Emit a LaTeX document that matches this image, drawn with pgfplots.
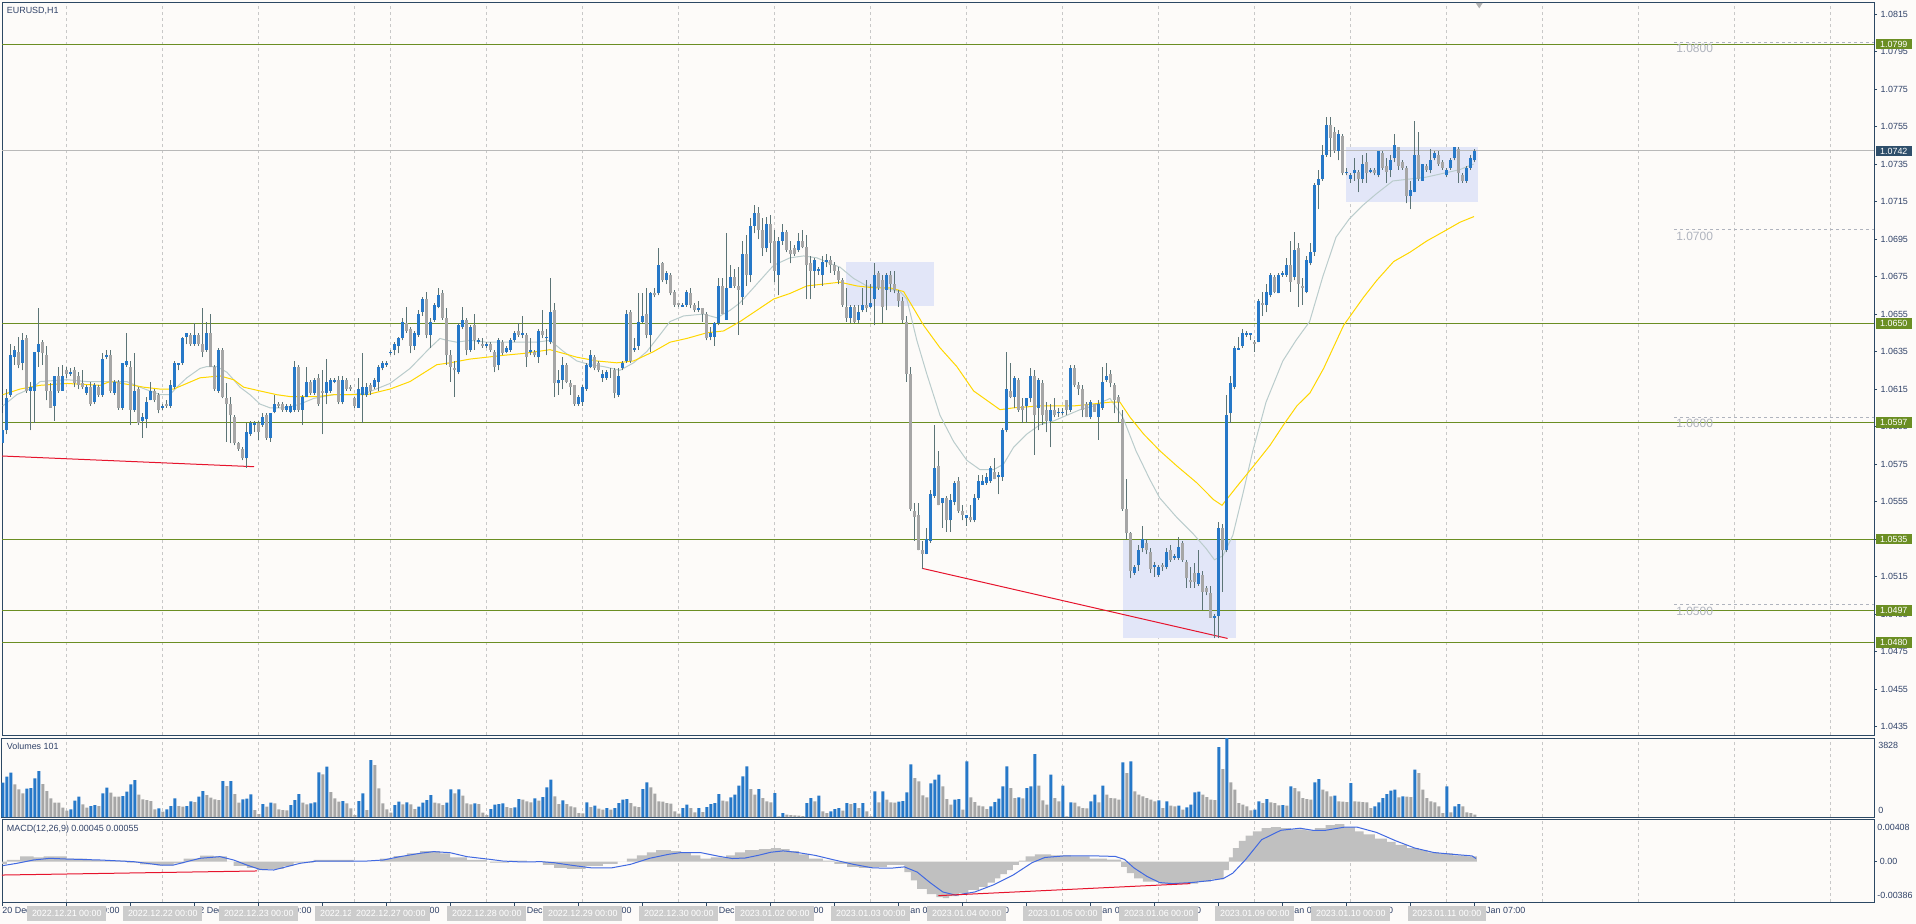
\documentclass[border=0pt]{standalone}
\usepackage{fontspec}
\setmainfont{Liberation Sans}
\usepackage{pgfplots}
\usepackage{pgfplotstable}
\pgfplotsset{compat=1.18}

\definecolor{bg}{RGB}{253,251,249}
\definecolor{frame}{RGB}{44,72,100}
\definecolor{lbl}{RGB}{48,66,104}
\definecolor{upc}{RGB}{38,120,200}
\definecolor{dnc}{RGB}{166,166,166}
\definecolor{wick}{RGB}{92,116,118}
\definecolor{lvl}{RGB}{107,142,35}
\definecolor{bidbox}{RGB}{47,79,107}
\definecolor{gridc}{RGB}{200,200,200}
\definecolor{zone}{RGB}{226,230,248}
\definecolor{trend}{RGB}{230,20,45}
\definecolor{maslow}{RGB}{255,215,0}
\definecolor{mafast}{RGB}{186,204,204}
\definecolor{histc}{RGB}{192,192,192}
\definecolor{sigc}{RGB}{65,105,225}
\definecolor{fibc}{RGB}{176,180,190}
\definecolor{datebox}{RGB}{204,204,204}
\newcommand{\lf}{\fontsize{6.7}{8}\selectfont}
\tikzset{lab/.style={font=\lf, text=lbl, inner sep=0pt},
  dbox/.style={fill=datebox, text=white, font=\lf, anchor=north, inner sep=0pt,
    minimum width=59pt, minimum height=11pt, yshift=-3pt}}

% bar index, open, high, low, close (EURUSD H1, 20 Dec 2022 08:00 onwards)
\pgfplotstableread{
x o h l c
0 1.0586 1.0602 1.0586 1.0593
1 1.0593 1.0615 1.0591 1.0610
2 1.0612 1.0639 1.0611 1.0633
3 1.0632 1.0638 1.0628 1.0636
4 1.0635 1.0643 1.0626 1.0628
5 1.0629 1.0645 1.0625 1.0641
6 1.0642 1.0644 1.0613 1.0614
7 1.0614 1.0619 1.0593 1.0616
8 1.0614 1.0635 1.0597 1.0635
9 1.0635 1.0658 1.0627 1.0639
10 1.0640 1.0641 1.0628 1.0634
11 1.0633 1.0638 1.0609 1.0614
12 1.0614 1.0618 1.0605 1.0605
13 1.0606 1.0622 1.0598 1.0622
14 1.0622 1.0627 1.0613 1.0614
15 1.0614 1.0628 1.0614 1.0622
16 1.0625 1.0627 1.0621 1.0623
17 1.0623 1.0626 1.0622 1.0624
18 1.0625 1.0627 1.0616 1.0618
19 1.0622 1.0624 1.0615 1.0617
20 1.0618 1.0625 1.0615 1.0616
21 1.0613 1.0617 1.0612 1.0616
22 1.0616 1.0619 1.0606 1.0607
23 1.0608 1.0618 1.0607 1.0617
24 1.0616 1.0617 1.0611 1.0612
25 1.0612 1.0634 1.0611 1.0631
26 1.0632 1.0636 1.0631 1.0633
27 1.0633 1.0636 1.0613 1.0614
28 1.0613 1.0620 1.0612 1.0619
29 1.0619 1.0620 1.0604 1.0605
30 1.0605 1.0629 1.0604 1.0629
31 1.0628 1.0645 1.0627 1.0630
32 1.0627 1.0630 1.0596 1.0604
33 1.0604 1.0634 1.0603 1.0614
34 1.0615 1.0616 1.0596 1.0597
35 1.0598 1.0602 1.0589 1.0600
36 1.0599 1.0611 1.0594 1.0608
37 1.0609 1.0619 1.0609 1.0614
38 1.0614 1.0615 1.0608 1.0609
39 1.0612 1.0613 1.0602 1.0604
40 1.0605 1.0607 1.0604 1.0606
41 1.0607 1.0609 1.0605 1.0606
42 1.0606 1.0620 1.0605 1.0617
43 1.0616 1.0630 1.0615 1.0629
44 1.0628 1.0629 1.0625 1.0629
45 1.0629 1.0643 1.0628 1.0642
46 1.0643 1.0645 1.0639 1.0645
47 1.0644 1.0645 1.0638 1.0639
48 1.0639 1.0650 1.0638 1.0644
49 1.0644 1.0645 1.0638 1.0639
50 1.0639 1.0658 1.0632 1.0635
51 1.0636 1.0651 1.0635 1.0645
52 1.0645 1.0655 1.0627 1.0627
53 1.0627 1.0628 1.0614 1.0615
54 1.0614 1.0637 1.0613 1.0636
55 1.0636 1.0637 1.0610 1.0611
56 1.0610 1.0618 1.0587 1.0607
57 1.0607 1.0611 1.0586 1.0601
58 1.0600 1.0601 1.0585 1.0586
59 1.0586 1.0587 1.0582 1.0583
60 1.0583 1.0584 1.0577 1.0578
61 1.0578 1.0597 1.0573 1.0592
62 1.0591 1.0598 1.0590 1.0597
63 1.0596 1.0598 1.0592 1.0597
64 1.0597 1.0598 1.0588 1.0592
65 1.0596 1.0602 1.0595 1.0600
66 1.0601 1.0602 1.0588 1.0589
67 1.0589 1.0602 1.0587 1.0602
68 1.0603 1.0612 1.0602 1.0607
69 1.0607 1.0608 1.0605 1.0606
70 1.0607 1.0608 1.0603 1.0604
71 1.0604 1.0607 1.0603 1.0606
72 1.0603 1.0607 1.0602 1.0606
73 1.0604 1.0630 1.0603 1.0627
74 1.0627 1.0628 1.0603 1.0604
75 1.0604 1.0612 1.0596 1.0611
76 1.0611 1.0627 1.0611 1.0619
77 1.0619 1.0620 1.0612 1.0613
78 1.0613 1.0621 1.0612 1.0620
79 1.0621 1.0623 1.0606 1.0607
80 1.0614 1.0625 1.0591 1.0613
81 1.0613 1.0631 1.0607 1.0619
82 1.0614 1.0621 1.0613 1.0620
83 1.0619 1.0621 1.0618 1.0620
84 1.0620 1.0622 1.0607 1.0608
85 1.0608 1.0622 1.0607 1.0620
86 1.0620 1.0621 1.0614 1.0615
87 1.0616 1.0617 1.0614 1.0615
88 1.0610 1.0611 1.0605 1.0606
89 1.0605 1.0621 1.0605 1.0615
90 1.0612 1.0634 1.0597 1.0616
91 1.0612 1.0618 1.0611 1.0616
92 1.0617 1.0618 1.0612 1.0614
93 1.0616 1.0621 1.0615 1.0620
94 1.0619 1.0628 1.0614 1.0627
95 1.0626 1.0630 1.0625 1.0629
96 1.0628 1.0630 1.0627 1.0629
97 1.0634 1.0636 1.0633 1.0635
98 1.0636 1.0640 1.0633 1.0639
99 1.0638 1.0643 1.0634 1.0642
100 1.0642 1.0653 1.0641 1.0651
101 1.0650 1.0659 1.0645 1.0646
102 1.0647 1.0648 1.0634 1.0638
103 1.0638 1.0646 1.0636 1.0645
104 1.0644 1.0657 1.0643 1.0655
105 1.0656 1.0664 1.0654 1.0663
106 1.0663 1.0667 1.0642 1.0644
107 1.0644 1.0653 1.0637 1.0651
108 1.0652 1.0661 1.0651 1.0660
109 1.0659 1.0669 1.0658 1.0665
110 1.0666 1.0668 1.0652 1.0653
111 1.0653 1.0658 1.0628 1.0633
112 1.0633 1.0636 1.0619 1.0627
113 1.0626 1.0630 1.0611 1.0625
114 1.0624 1.0650 1.0623 1.0649
115 1.0648 1.0659 1.0647 1.0652
116 1.0652 1.0653 1.0633 1.0636
117 1.0636 1.0649 1.0635 1.0648
118 1.0649 1.0655 1.0636 1.0641
119 1.0640 1.0642 1.0639 1.0641
120 1.0639 1.0642 1.0637 1.0638
121 1.0638 1.0640 1.0637 1.0639
122 1.0639 1.0640 1.0635 1.0636
123 1.0635 1.0636 1.0624 1.0627
124 1.0628 1.0642 1.0625 1.0641
125 1.0640 1.0641 1.0633 1.0634
126 1.0635 1.0638 1.0634 1.0637
127 1.0636 1.0642 1.0635 1.0641
128 1.0641 1.0646 1.0640 1.0645
129 1.0646 1.0650 1.0643 1.0644
130 1.0644 1.0654 1.0642 1.0645
131 1.0644 1.0645 1.0627 1.0632
132 1.0635 1.0642 1.0633 1.0636
133 1.0635 1.0636 1.0632 1.0633
134 1.0632 1.0647 1.0629 1.0646
135 1.0646 1.0657 1.0642 1.0644
136 1.0642 1.0647 1.0633 1.0643
137 1.0640 1.0674 1.0639 1.0656
138 1.0657 1.0661 1.0611 1.0618
139 1.0618 1.0625 1.0612 1.0620
140 1.0620 1.0632 1.0615 1.0628
141 1.0628 1.0629 1.0618 1.0619
142 1.0618 1.0620 1.0612 1.0616
143 1.0617 1.0617 1.0606 1.0607
144 1.0607 1.0612 1.0606 1.0611
145 1.0608 1.0617 1.0606 1.0616
146 1.0615 1.0629 1.0614 1.0628
147 1.0627 1.0636 1.0626 1.0633
148 1.0632 1.0633 1.0625 1.0626
149 1.0629 1.0630 1.0624 1.0625
150 1.0621 1.0625 1.0619 1.0623
151 1.0621 1.0625 1.0620 1.0624
152 1.0624 1.0626 1.0621 1.0624
153 1.0625 1.0626 1.0610 1.0613
154 1.0612 1.0626 1.0611 1.0622
155 1.0626 1.0630 1.0625 1.0629
156 1.0630 1.0657 1.0629 1.0655
157 1.0656 1.0657 1.0629 1.0630
158 1.0636 1.0642 1.0635 1.0637
159 1.0638 1.0666 1.0636 1.0651
160 1.0651 1.0666 1.0650 1.0654
161 1.0655 1.0669 1.0642 1.0644
162 1.0644 1.0667 1.0635 1.0666
163 1.0666 1.0669 1.0664 1.0665
164 1.0666 1.0690 1.0665 1.0681
165 1.0682 1.0683 1.0672 1.0673
166 1.0673 1.0678 1.0671 1.0677
167 1.0676 1.0677 1.0665 1.0666
168 1.0667 1.0668 1.0659 1.0660
169 1.0661 1.0661 1.0659 1.0660
170 1.0659 1.0661 1.0659 1.0660
171 1.0660 1.0668 1.0659 1.0667
172 1.0666 1.0669 1.0658 1.0660
173 1.0660 1.0661 1.0656 1.0657
174 1.0657 1.0662 1.0656 1.0658
175 1.0658 1.0658 1.0651 1.0655
176 1.0655 1.0656 1.0641 1.0642
177 1.0643 1.0648 1.0641 1.0645
178 1.0643 1.0651 1.0638 1.0650
179 1.0650 1.0674 1.0649 1.0670
180 1.0670 1.0674 1.0655 1.0655
181 1.0652 1.0698 1.0652 1.0669
182 1.0669 1.0681 1.0669 1.0675
183 1.0675 1.0679 1.0669 1.0670
184 1.0670 1.0680 1.0644 1.0668
185 1.0664 1.0694 1.0660 1.0687
186 1.0687 1.0697 1.0670 1.0676
187 1.0676 1.0706 1.0672 1.0702
188 1.0702 1.0713 1.0698 1.0709
189 1.0709 1.0712 1.0695 1.0700
190 1.0700 1.0706 1.0686 1.0690
191 1.0690 1.0707 1.0688 1.0703
192 1.0703 1.0708 1.0682 1.0693
193 1.0694 1.0700 1.0672 1.0678
194 1.0676 1.0696 1.0665 1.0694
195 1.0694 1.0703 1.0692 1.0699
196 1.0699 1.0700 1.0688 1.0689
197 1.0689 1.0694 1.0682 1.0687
198 1.0690 1.0692 1.0686 1.0687
199 1.0689 1.0698 1.0688 1.0694
200 1.0694 1.0700 1.0690 1.0691
201 1.0691 1.0697 1.0663 1.0681
202 1.0682 1.0686 1.0663 1.0678
203 1.0678 1.0685 1.0669 1.0684
204 1.0678 1.0680 1.0676 1.0679
205 1.0676 1.0686 1.0670 1.0683
206 1.0683 1.0687 1.0680 1.0684
207 1.0684 1.0686 1.0677 1.0681
208 1.0681 1.0683 1.0676 1.0678
209 1.0678 1.0680 1.0671 1.0673
210 1.0673 1.0674 1.0659 1.0660
211 1.0659 1.0669 1.0651 1.0653
212 1.0653 1.0660 1.0650 1.0659
213 1.0659 1.0660 1.0650 1.0651
214 1.0652 1.0660 1.0650 1.0656
215 1.0657 1.0669 1.0656 1.0660
216 1.0660 1.0673 1.0656 1.0658
217 1.0659 1.0671 1.0658 1.0661
218 1.0663 1.0682 1.0649 1.0676
219 1.0677 1.0678 1.0668 1.0669
220 1.0673 1.0676 1.0650 1.0659
221 1.0668 1.0677 1.0657 1.0676
222 1.0676 1.0678 1.0667 1.0671
223 1.0671 1.0678 1.0666 1.0668
224 1.0666 1.0668 1.0659 1.0662
225 1.0662 1.0664 1.0650 1.0652
226 1.0651 1.0654 1.0619 1.0623
227 1.0623 1.0627 1.0550 1.0551
228 1.0550 1.0554 1.0534 1.0547
229 1.0548 1.0554 1.0529 1.0529
230 1.0529 1.0534 1.0519 1.0527
231 1.0527 1.0541 1.0527 1.0535
232 1.0534 1.0561 1.0533 1.0559
233 1.0558 1.0596 1.0557 1.0573
234 1.0574 1.0582 1.0553 1.0553
235 1.0554 1.0557 1.0541 1.0557
236 1.0557 1.0558 1.0539 1.0545
237 1.0545 1.0559 1.0539 1.0556
238 1.0555 1.0566 1.0553 1.0565
239 1.0566 1.0568 1.0549 1.0550
240 1.0550 1.0553 1.0545 1.0548
241 1.0546 1.0548 1.0542 1.0548
242 1.0547 1.0553 1.0544 1.0545
243 1.0545 1.0559 1.0544 1.0557
244 1.0557 1.0569 1.0556 1.0566
245 1.0564 1.0569 1.0564 1.0566
246 1.0565 1.0570 1.0564 1.0568
247 1.0566 1.0574 1.0565 1.0573
248 1.0571 1.0578 1.0567 1.0567
249 1.0568 1.0571 1.0559 1.0569
250 1.0568 1.0594 1.0566 1.0593
251 1.0593 1.0635 1.0592 1.0615
252 1.0614 1.0629 1.0610 1.0611
253 1.0611 1.0622 1.0605 1.0621
254 1.0620 1.0621 1.0603 1.0604
255 1.0606 1.0610 1.0597 1.0604
256 1.0606 1.0610 1.0597 1.0610
257 1.0610 1.0626 1.0608 1.0622
258 1.0622 1.0625 1.0580 1.0601
259 1.0605 1.0621 1.0593 1.0620
260 1.0618 1.0620 1.0596 1.0601
261 1.0604 1.0608 1.0592 1.0598
262 1.0598 1.0607 1.0584 1.0604
263 1.0604 1.0610 1.0600 1.0601
264 1.0602 1.0605 1.0600 1.0603
265 1.0602 1.0605 1.0601 1.0603
266 1.0609 1.0609 1.0601 1.0604
267 1.0604 1.0628 1.0603 1.0626
268 1.0626 1.0628 1.0616 1.0617
269 1.0617 1.0619 1.0612 1.0615
270 1.0615 1.0617 1.0600 1.0604
271 1.0607 1.0608 1.0600 1.0600
272 1.0600 1.0609 1.0599 1.0608
273 1.0607 1.0607 1.0603 1.0603
274 1.0600 1.0609 1.0588 1.0607
275 1.0605 1.0627 1.0604 1.0619
276 1.0620 1.0629 1.0619 1.0622
277 1.0623 1.0625 1.0616 1.0618
278 1.0617 1.0618 1.0602 1.0609
279 1.0611 1.0612 1.0597 1.0608
280 1.0599 1.0604 1.0550 1.0551
281 1.0551 1.0567 1.0535 1.0538
282 1.0538 1.0539 1.0514 1.0518
283 1.0517 1.0521 1.0516 1.0520
284 1.0521 1.0532 1.0518 1.0529
285 1.0530 1.0542 1.0528 1.0535
286 1.0533 1.0535 1.0527 1.0529
287 1.0528 1.0530 1.0517 1.0519
288 1.0520 1.0523 1.0515 1.0521
289 1.0516 1.0521 1.0515 1.0520
290 1.0521 1.0522 1.0518 1.0520
291 1.0520 1.0530 1.0519 1.0528
292 1.0529 1.0532 1.0523 1.0524
293 1.0525 1.0527 1.0524 1.0526
294 1.0525 1.0536 1.0524 1.0531
295 1.0533 1.0534 1.0523 1.0524
296 1.0523 1.0524 1.0509 1.0514
297 1.0513 1.0520 1.0509 1.0512
298 1.0517 1.0522 1.0509 1.0512
299 1.0511 1.0529 1.0510 1.0517
300 1.0516 1.0518 1.0497 1.0507
301 1.0509 1.0510 1.0505 1.0507
302 1.0506 1.0510 1.0493 1.0493
303 1.0493 1.0495 1.0482 1.0494
304 1.0494 1.0544 1.0482 1.0541
305 1.0541 1.0543 1.0507 1.0529
306 1.0529 1.0612 1.0528 1.0601
307 1.0602 1.0622 1.0597 1.0618
308 1.0616 1.0638 1.0615 1.0637
309 1.0636 1.0643 1.0636 1.0637
310 1.0638 1.0647 1.0637 1.0645
311 1.0644 1.0646 1.0643 1.0645
312 1.0644 1.0645 1.0641 1.0645
313 1.0640 1.0641 1.0635 1.0639
314 1.0640 1.0663 1.0640 1.0662
315 1.0661 1.0667 1.0654 1.0660
316 1.0660 1.0671 1.0656 1.0667
317 1.0665 1.0677 1.0664 1.0676
318 1.0675 1.0676 1.0666 1.0667
319 1.0666 1.0677 1.0666 1.0676
320 1.0676 1.0678 1.0675 1.0677
321 1.0676 1.0685 1.0675 1.0681
322 1.0681 1.0694 1.0667 1.0672
323 1.0675 1.0699 1.0673 1.0689
324 1.0690 1.0693 1.0659 1.0671
325 1.0670 1.0674 1.0660 1.0669
326 1.0667 1.0686 1.0666 1.0684
327 1.0682 1.0693 1.0681 1.0688
328 1.0688 1.0725 1.0686 1.0724
329 1.0724 1.0732 1.0711 1.0727
330 1.0727 1.0745 1.0726 1.0740
331 1.0740 1.0760 1.0739 1.0756
332 1.0756 1.0760 1.0739 1.0749
333 1.0752 1.0755 1.0741 1.0742
334 1.0742 1.0753 1.0737 1.0751
335 1.0750 1.0751 1.0729 1.0730
336 1.0730 1.0733 1.0729 1.0731
337 1.0727 1.0730 1.0725 1.0729
338 1.0730 1.0738 1.0726 1.0732
339 1.0731 1.0732 1.0720 1.0727
340 1.0727 1.0740 1.0725 1.0735
341 1.0736 1.0741 1.0725 1.0730
342 1.0731 1.0733 1.0730 1.0732
343 1.0732 1.0733 1.0729 1.0730
344 1.0729 1.0742 1.0728 1.0742
345 1.0741 1.0742 1.0732 1.0733
346 1.0734 1.0738 1.0725 1.0731
347 1.0732 1.0740 1.0728 1.0737
348 1.0738 1.0751 1.0736 1.0745
349 1.0744 1.0744 1.0732 1.0734
350 1.0736 1.0737 1.0732 1.0733
351 1.0733 1.0734 1.0714 1.0718
352 1.0718 1.0726 1.0711 1.0721
353 1.0720 1.0758 1.0720 1.0740
354 1.0740 1.0752 1.0726 1.0727
355 1.0726 1.0735 1.0726 1.0735
356 1.0734 1.0735 1.0731 1.0732
357 1.0732 1.0743 1.0730 1.0737
358 1.0738 1.0742 1.0737 1.0741
359 1.0740 1.0742 1.0734 1.0735
360 1.0736 1.0737 1.0732 1.0733
361 1.0729 1.0733 1.0728 1.0732
362 1.0733 1.0738 1.0732 1.0737
363 1.0738 1.0744 1.0737 1.0744
364 1.0743 1.0744 1.0725 1.0730
365 1.0729 1.0730 1.0725 1.0726
366 1.0726 1.0734 1.0725 1.0733
367 1.0733 1.0740 1.0732 1.0738
368 1.0737 1.0743 1.0736 1.0742
}\candles

% bar index, tick volume, 1 = higher than previous bar
\pgfplotstableread{
x v u
0 1663 1
1 1954 1
2 2148 1
3 1583 0
4 1340 0
5 1147 0
6 1373 1
7 1405 1
8 1873 1
9 2229 1
10 1599 0
11 1260 0
12 904 0
13 694 0
14 694 0
15 452 0
16 307 0
17 371 1
18 791 1
19 985 1
20 614 0
21 452 0
22 533 1
23 581 1
24 533 0
25 1147 1
26 1421 1
27 1179 0
28 985 0
29 985 0
30 1017 1
31 1227 1
32 1583 1
33 1793 1
34 1082 0
35 856 0
36 824 0
37 775 0
38 371 0
39 420 1
40 258 0
41 371 1
42 533 1
43 904 1
44 533 0
45 501 0
46 533 1
47 759 1
48 727 0
49 985 1
50 1260 1
51 1066 0
52 937 0
53 856 0
54 824 0
55 1744 1
56 1502 0
57 1744 1
58 1114 0
59 694 0
60 856 1
61 888 1
62 1098 1
63 339 0
64 145 0
65 630 1
66 501 0
67 694 1
68 662 0
69 371 0
70 339 0
71 323 0
72 581 1
73 824 1
74 1114 1
75 694 0
76 614 0
77 662 1
78 711 1
79 2164 1
80 2067 0
81 2439 1
82 1211 0
83 904 0
84 743 0
85 775 1
86 662 0
87 420 0
88 97 0
89 775 1
90 1147 1
91 339 0
92 2762 1
93 2519 0
94 1389 0
95 662 0
96 371 0
97 210 0
98 581 1
99 743 1
100 614 0
101 711 1
102 614 0
103 388 0
104 501 1
105 694 1
106 824 1
107 1066 1
108 694 0
109 662 0
110 581 0
111 694 1
112 1340 1
113 1147 0
114 1340 1
115 1034 0
116 662 0
117 614 0
118 662 1
119 630 0
120 210 0
121 97 0
122 388 1
123 598 1
124 630 1
125 662 1
126 485 0
127 436 0
128 468 1
129 872 1
130 840 0
131 759 0
132 711 0
133 904 1
134 791 0
135 969 1
136 1437 1
137 1809 1
138 1001 0
139 630 0
140 808 1
141 630 0
142 517 0
143 468 0
144 194 0
145 178 0
146 711 1
147 485 0
148 549 1
149 404 0
150 355 0
151 436 1
152 355 0
153 436 1
154 678 1
155 840 1
156 872 1
157 678 0
158 517 0
159 485 0
160 1357 1
161 1680 1
162 1437 0
163 1131 0
164 759 0
165 743 0
166 678 0
167 646 0
168 275 0
169 162 0
170 436 1
171 598 1
172 436 0
173 226 0
174 436 1
175 242 0
176 485 1
177 630 1
178 678 1
179 1114 1
180 791 0
181 759 0
182 953 1
183 1082 1
184 1518 1
185 1970 1
186 2455 1
187 1357 0
188 1082 0
189 1357 1
190 921 0
191 759 0
192 711 0
193 1163 1
194 32 0
195 194 1
196 113 0
197 97 0
198 81 0
199 65 0
200 48 0
201 678 1
202 921 1
203 759 0
204 1034 1
205 275 0
206 194 0
207 275 1
208 388 1
209 436 1
210 307 0
211 678 1
212 630 0
213 678 1
214 436 0
215 678 1
216 275 0
217 32 0
218 1244 1
219 711 0
220 1244 1
221 840 0
222 711 0
223 694 0
224 743 1
225 775 1
226 1195 1
227 2552 1
228 1890 0
229 1728 0
230 1050 0
231 953 0
232 1631 1
233 1809 1
234 2051 1
235 1486 0
236 872 0
237 598 0
238 840 1
239 872 1
240 355 0
241 2697 1
242 953 0
243 727 0
244 549 0
245 517 0
246 388 0
247 517 1
248 727 1
249 888 1
250 1486 1
251 2455 1
252 1405 0
253 921 0
254 953 1
255 904 0
256 1405 1
257 1486 1
258 3052 1
259 1518 0
260 808 0
261 598 0
262 2051 1
263 921 0
264 759 0
265 1518 1
266 32 0
267 711 1
268 694 0
269 517 0
270 436 0
271 420 0
272 759 1
273 1082 1
274 711 0
275 1518 1
276 1082 0
277 921 0
278 904 0
279 840 0
280 2649 1
281 2132 0
282 2697 1
283 1244 0
284 1082 0
285 1001 0
286 921 0
287 840 0
288 759 0
289 808 1
290 436 0
291 759 1
292 549 0
293 517 0
294 549 1
295 355 0
296 468 1
297 598 1
298 1195 1
299 1227 1
300 1082 0
301 969 0
302 840 0
303 824 0
304 3392 1
305 2326 0
306 3828 1
307 1680 0
308 1324 0
309 678 0
310 598 0
311 517 0
312 323 0
313 355 1
314 759 1
315 678 0
316 872 1
317 711 0
318 678 0
319 565 0
320 581 1
321 549 0
322 1486 1
323 1405 0
324 1244 0
325 921 0
326 872 0
327 840 0
328 1680 1
329 1841 1
330 1324 0
331 1244 0
332 1001 0
333 1034 1
334 759 0
335 743 0
336 727 0
337 1647 1
338 759 0
339 743 0
340 727 0
341 711 0
342 436 0
343 517 1
344 711 1
345 921 1
346 1114 1
347 1276 1
348 1324 1
349 953 0
350 1001 1
351 985 0
352 969 0
353 2293 1
354 2132 0
355 1324 0
356 921 0
357 759 0
358 711 0
359 517 0
360 194 0
361 1486 1
362 226 0
363 517 1
364 630 1
365 517 0
366 226 0
367 194 0
368 113 0
}\vols

\pgfplotsset{
  pane/.style={
    scale only axis, width=1404pt, xmin=-0.2, xmax=467.8,
    axis line style={frame, line width=0.75pt},
    xtick={16,40,64,88,97,121,145,169,193,217,241,265,289,313,337,361,385,409,433,457},
    xticklabels={}, xmajorgrids,
    major x grid style={gridc, line width=0.75pt, dash pattern=on 2.25pt off 2.25pt},
    xtick style={draw=none}, ytick=\empty, scaled y ticks=false,
    tick align=outside, major tick length=2.25pt,
  },
  nomark/.style={only marks, mark=*, mark size=0pt, mark options={draw=none, fill=none}},
}

\begin{document}
\begin{tikzpicture}
\fill[bg] (0,0) rectangle (1437pt,-693pt);

% ---------------- price pane ----------------
\begin{axis}[pane, at={(1.5pt,-2.25pt)}, anchor=north west, height=549pt,
  ymin=1.04305, ymax=1.08209,
  ytick={1.0435,1.0455,1.0475,1.0495,1.0515,1.0535,1.0555,1.0575,1.0595,1.0615,1.0635,1.0655,1.0675,1.0695,1.0715,1.0735,1.0755,1.0775,1.0795,1.0815},
  ytick pos=right, yticklabel pos=right,
  ytick style={draw=frame, line width=0.75pt},
  yticklabel style={font=\lf, text=lbl, anchor=west, inner sep=0pt, xshift=2.5pt,
    /pgf/number format/fixed, /pgf/number format/fixed zerofill,
    /pgf/number format/precision=4, /pgf/number format/assume math mode=true},
]
% zones
\fill[zone] (axis cs:210.8,1.06594) rectangle (axis cs:232.8,1.06827);
\fill[zone] (axis cs:280.0,1.04824) rectangle (axis cs:308.3,1.05353);
\fill[zone] (axis cs:335.8,1.07149) rectangle (axis cs:368.7,1.07439);
% levels
\addplot[lvl, line width=0.75pt] coordinates {(-0.2,1.0799) (467.8,1.0799)};
\addplot[lvl, line width=0.75pt] coordinates {(-0.2,1.0650) (467.8,1.0650)};
\addplot[lvl, line width=0.75pt] coordinates {(-0.2,1.0597) (467.8,1.0597)};
\addplot[lvl, line width=0.75pt] coordinates {(-0.2,1.0535) (467.8,1.0535)};
\addplot[lvl, line width=0.75pt] coordinates {(-0.2,1.0497) (467.8,1.0497)};
\addplot[lvl, line width=0.75pt] coordinates {(-0.2,1.0480) (467.8,1.0480)};
\addplot[gray!55, line width=0.75pt] coordinates {(-0.2,1.0742) (467.8,1.0742)};
% round-number markers
\addplot[fibc, line width=0.75pt, dash pattern=on 2.25pt off 2.25pt] coordinates {(417.8,1.0800) (467.8,1.0800)};
\addplot[fibc, line width=0.75pt, dash pattern=on 2.25pt off 2.25pt] coordinates {(417.8,1.0700) (467.8,1.0700)};
\addplot[fibc, line width=0.75pt, dash pattern=on 2.25pt off 2.25pt] coordinates {(417.8,1.0600) (467.8,1.0600)};
\addplot[fibc, line width=0.75pt, dash pattern=on 2.25pt off 2.25pt] coordinates {(417.8,1.0500) (467.8,1.0500)};
\node[anchor=north west, font=\fontsize{9}{10}\selectfont, text=fibc, inner sep=0pt] at (axis cs:418.3,1.0799) {1.0800};
\node[anchor=north west, font=\fontsize{9}{10}\selectfont, text=fibc, inner sep=0pt] at (axis cs:418.3,1.0699) {1.0700};
\node[anchor=north west, font=\fontsize{9}{10}\selectfont, text=fibc, inner sep=0pt] at (axis cs:418.3,1.0599) {1.0600};
\node[anchor=north west, font=\fontsize{9}{10}\selectfont, text=fibc, inner sep=0pt] at (axis cs:418.3,1.0499) {1.0500};
% trend lines
\addplot[trend, line width=0.75pt] coordinates {(-0.25,1.05793) (62.8,1.05736)};
\addplot[trend, line width=0.75pt] coordinates {(229.8,1.05194) (306.2,1.04820)};
% moving averages
\addplot[mafast, line width=0.75pt] coordinates {(0,1.0606) (3.5,1.0612) (7.7,1.0616) (9.3,1.0619) (16,1.0620) (21,1.0619) (26,1.0619) (31,1.0619) (34.3,1.0616) (36.8,1.0614) (39.3,1.0612) (41.8,1.0612) (43.5,1.0616) (46,1.0621) (49.3,1.0626) (51,1.0627) (53.5,1.0627) (56,1.0624) (57.7,1.0620) (59.3,1.0616) (61.8,1.0612) (64.3,1.0607) (66.8,1.0605) (70.2,1.0605) (72.7,1.0606) (74.3,1.0607) (77.7,1.0610) (82.7,1.0612) (86.8,1.0612) (91,1.0613) (96.8,1.0618) (101.8,1.0626) (106.8,1.0637) (109.3,1.0642) (111,1.0641) (113.5,1.0640) (116.8,1.0641) (121,1.0640) (125,1.0640) (129.3,1.0640) (133.5,1.0640) (136.8,1.0641) (140.2,1.0635) (143.5,1.0630) (146.8,1.0628) (150.2,1.0627) (154.3,1.0625) (157.7,1.0629) (161,1.0635) (164.3,1.0644) (166.8,1.0651) (170.2,1.0654) (175.2,1.0655) (178.5,1.0653) (181.8,1.0657) (184.3,1.0661) (188.5,1.0671) (192.7,1.0681) (196.8,1.0685) (200.2,1.0686) (203.5,1.0685) (206.8,1.0682) (209.3,1.0680) (212.7,1.0674) (216,1.0670) (220.2,1.0669) (224.3,1.0667) (226,1.0663) (228.5,1.0641) (231,1.0623) (234.3,1.0601) (237.7,1.0587) (241,1.0577) (244.3,1.0572) (247.7,1.0572) (250.2,1.0575) (252.7,1.0584) (256,1.0591) (259.3,1.0596) (262.7,1.0598) (266,1.0601) (269.3,1.0604) (272.7,1.0606) (276.8,1.0610) (280,1.0600) (283.3,1.0582) (286.7,1.0567) (289.2,1.0557) (293.3,1.0547) (297.5,1.0538) (300.8,1.0530) (302.9,1.0524) (305,1.0526) (307.5,1.0537) (310,1.0559) (312.5,1.0582) (315.8,1.0608) (320,1.0630) (323.3,1.0641) (326.7,1.0651) (330,1.0675) (333.3,1.0696) (336.7,1.0706) (340,1.0713) (343.3,1.0719) (347.5,1.0726) (351.7,1.0727) (355.8,1.0728) (360,1.0730) (364.2,1.0732) (367.7,1.0735)};
\addplot[maslow, line width=0.75pt] coordinates {(0,1.0612) (4.3,1.0615) (9.3,1.0617) (16,1.0618) (24.3,1.0617) (26.8,1.0619) (32.7,1.0617) (35.2,1.0616) (39.3,1.0615) (42.7,1.0615) (46,1.0618) (49.3,1.0621) (54.3,1.0622) (57.7,1.0620) (60.2,1.0616) (64.3,1.0614) (68.5,1.0612) (71.8,1.0611) (78.5,1.0611) (82.7,1.0612) (91,1.0612) (96.8,1.0615) (101.8,1.0619) (108.5,1.0628) (111.8,1.0629) (116.8,1.0631) (125.2,1.0633) (130.2,1.0634) (136.8,1.0636) (140.2,1.0634) (143.5,1.0632) (148.5,1.0630) (153.5,1.0629) (157.7,1.0630) (162.7,1.0635) (166.8,1.0640) (171,1.0642) (176,1.0645) (180.2,1.0646) (184.3,1.0651) (188.5,1.0657) (192.7,1.0663) (196.8,1.0666) (201,1.0670) (205.2,1.0671) (209.3,1.0672) (213.5,1.0670) (217.7,1.0669) (221.8,1.0669) (225.2,1.0667) (227.7,1.0658) (230.2,1.0649) (234.3,1.0637) (238.5,1.0627) (242.7,1.0614) (246,1.0609) (249.3,1.0604) (252.7,1.0605) (259.3,1.0606) (267.7,1.0606) (276.8,1.0608) (279.3,1.0608) (281.8,1.0600) (285.2,1.0591) (289.3,1.0582) (293.5,1.0574) (298.5,1.0565) (302.7,1.0556) (304.8,1.0553) (308.5,1.0563) (312.7,1.0574) (316.8,1.0585) (320.2,1.0596) (323.5,1.0606) (326.8,1.0613) (330.2,1.0626) (335.2,1.0649) (340.2,1.0664) (343.5,1.0673) (347.7,1.0683) (351.8,1.0688) (356,1.0694) (360.2,1.0699) (364.3,1.0704) (367.8,1.0707)};
% candles: wicks, then bodies
\addplot[nomark, error bars/.cd, y dir=plus, y explicit, error mark=none,
  error bar style={line width=0.75pt, wick}]
  table[x=x, y=l, y error expr=\thisrow{h}-\thisrow{l}] \candles;
\addplot[nomark, restrict expr to domain={\thisrow{c}-\thisrow{o}}{0:1},
  error bars/.cd, y dir=plus, y explicit, error mark=none,
  error bar style={line width=2.25pt, upc}]
  table[x=x, y=o, y error expr=\thisrow{c}-\thisrow{o}] \candles;
\addplot[nomark, restrict expr to domain={\thisrow{c}-\thisrow{o}}{-1:0},
  error bars/.cd, y dir=plus, y explicit, error mark=none,
  error bar style={line width=2.25pt, dnc}]
  table[x=x, y=c, y error expr=\thisrow{o}-\thisrow{c}] \candles;
\node[lab, anchor=west] at ([xshift=3.5pt, yshift=-6pt]rel axis cs:0,1) {EURUSD,H1};
\coordinate (lv1) at (axis cs:467.8,1.0799);
\coordinate (lv2) at (axis cs:467.8,1.0650);
\coordinate (lv3) at (axis cs:467.8,1.0597);
\coordinate (lv4) at (axis cs:467.8,1.0535);
\coordinate (lv5) at (axis cs:467.8,1.0497);
\coordinate (lv6) at (axis cs:467.8,1.0480);
\coordinate (bid) at (axis cs:467.8,1.0742);
\coordinate (tri) at (axis cs:369.1,1.08209);
\end{axis}
\foreach \c/\t in {lv1/1.0799, lv2/1.0650, lv3/1.0597, lv4/1.0535, lv5/1.0497, lv6/1.0480}
  \node[fill=lvl, text=white, font=\lf, anchor=west, inner sep=0pt, minimum width=27pt, minimum height=8pt] at ([xshift=1.1pt]\c) {\t};
\node[fill=bidbox, text=white, font=\lf, anchor=west, inner sep=0pt, minimum width=27pt, minimum height=8pt] at ([xshift=1.1pt]bid) {1.0742};
\fill[gray!60] ([xshift=-2.6pt]tri) -- ([xshift=2.6pt]tri) -- ([yshift=-4pt]tri) -- cycle;

% ---------------- volume pane ----------------
\begin{axis}[pane, at={(1.5pt,-553.5pt)}, anchor=north west, height=59.25pt,
  ymin=0, ymax=3828, clip=false]
\addplot[ybar, bar width=2.25pt, bar shift=0pt, fill=upc, draw=none,
  restrict expr to domain={\thisrow{u}}{0.5:1.5}] table[x=x, y=v] \vols;
\addplot[ybar, bar width=2.25pt, bar shift=0pt, fill=dnc, draw=none,
  restrict expr to domain={\thisrow{u}}{-0.5:0.5}] table[x=x, y=v] \vols;
\node[lab, anchor=west] at ([xshift=3.5pt, yshift=-6pt]rel axis cs:0,1) {Volumes 101};
\node[lab, anchor=west] at ([xshift=3pt, yshift=-5.25pt]rel axis cs:1,1) {3828};
\node[lab, anchor=west] at ([xshift=3pt, yshift=5.25pt]rel axis cs:1,0) {0};
\end{axis}

% ---------------- MACD pane ----------------
\begin{axis}[pane, at={(1.5pt,-614.25pt)}, anchor=north west, height=62.25pt,
  ymin=-0.00386, ymax=0.00408, clip=false,
  ytick={0}, yticklabels={0.00}, ytick pos=right, yticklabel pos=right,
  ytick style={draw=frame, line width=0.75pt},
  yticklabel style={font=\lf, text=lbl, anchor=west, inner sep=0pt, xshift=2pt},
  xtick pos=bottom,
  extra x ticks={0,16,32,48,64,80,96,112,128,144,160,176,192,208,224,240,256,272,288,304,320,336,352,368},
  extra x tick labels={20 Dec 2022,21 Dec 00:00,21 Dec 16:00,22 Dec 08:00,23 Dec 00:00,23 Dec 16:00,26 Dec 23:00,27 Dec 15:00,28 Dec 07:00,28 Dec 23:00,29 Dec 15:00,30 Dec 07:00,30 Dec 23:00,2 Jan 15:00,3 Jan 07:00,3 Jan 23:00,4 Jan 15:00,5 Jan 07:00,5 Jan 23:00,6 Jan 15:00,9 Jan 07:00,9 Jan 23:00,10 Jan 15:00,11 Jan 07:00},
  extra x tick style={grid=none, xtick style={draw=frame, line width=0.75pt}, major tick length=3pt,
    xticklabel style={font=\lf, text=lbl, anchor=north west, inner sep=0pt, xshift=-0.5pt, yshift=-1pt}},
]
\addplot[ybar interval, fill=histc, draw=none] coordinates {(-0.2,-0.0002) (1,0.00016) (4.3,0.0005) (7.7,0.0004) (10.2,0.0005) (16,0.0003) (21,0.00016) (24.3,0.0001) (31,-0.0001) (34.3,-0.00026) (38.5,-0.00035) (42.7,-0.00016) (45.2,0.0003) (49.3,0.00057) (52.7,0.0005) (56,0.0) (57.7,-0.0004) (61,-0.0006) (63.5,-0.0008) (66,-0.0007) (70.2,-0.0004) (72.7,-0.0001) (77.7,0.00016) (87.7,0.0) (94.3,0.0003) (97.7,0.00054) (101,0.0008) (104.3,0.001) (109.3,0.0008) (111.8,0.0004) (116,0.00016) (121,0.0) (121.8,-0.0001) (126.6,0.0001) (131,0.0000) (135,-0.0003) (137.8,-0.0006) (141,-0.0007) (145.7,-0.0004) (150,-0.0002) (153.7,0.0000) (156,0.0003) (158.5,0.0006) (161,0.0009) (163.3,0.0011) (167,0.0010) (169.6,0.0009) (172,0.0006) (174.4,0.0003) (177,0.0004) (180.8,0.0006) (183,0.0009) (185.6,0.0011) (189,0.0012) (192,0.0013) (194.5,0.0012) (196.7,0.0010) (199,0.0007) (201.5,0.0003) (205,0.0001) (207.9,-0.0002) (211.1,-0.0005) (214,-0.0006) (217.5,-0.0005) (221,-0.0003) (225.4,-0.0010) (227,-0.0018) (228.6,-0.0026) (231,-0.0031) (233.4,-0.0034) (235,-0.0035) (236.6,-0.0033) (239,-0.0030) (241.4,-0.0027) (244,-0.0024) (246.2,-0.0020) (248,-0.0016) (249.4,-0.0012) (251,-0.0008) (252.5,-0.0003) (254,0.0001) (255.7,0.0005) (258,0.0007) (262.1,0.0006) (267,0.0005) (271.7,0.0003) (276,0.0002) (279.6,-0.0005) (281,-0.0011) (282.8,-0.0016) (285,-0.0019) (289.2,-0.0021) (294,-0.0021) (298.8,-0.0019) (302,-0.0017) (305.2,-0.0008) (306.5,0.0004) (307.5,0.0013) (309,0.0020) (310.7,0.0025) (312.5,0.0029) (314.7,0.0032) (317,0.0033) (319.5,0.0032) (322,0.0031) (325.9,0.0030) (328,0.0032) (330.7,0.0035) (333,0.0036) (335.4,0.0033) (338,0.0029) (340.2,0.0026) (343,0.0022) (346,0.0019) (348.2,0.0016) (351,0.0013) (354,0.0011) (356.2,0.0009) (359,0.0008) (362.6,0.0006) (366,0.0005) (368.5,0.0005)};
\addplot[sigc, line width=0.75pt] coordinates {(0,-0.00038) (3.5,-0.00016) (7.7,0.00016) (11.8,0.00032) (16,0.00025) (24.3,0.00016) (32.7,0.0) (39.3,-0.00032) (42.7,-0.00032) (46,0.0) (49.3,0.00032) (54.3,0.00048) (57.7,0.00016) (61,-0.00032) (64.3,-0.00074) (67.7,-0.0008) (71,-0.00048) (74.3,-0.00016) (78.5,0.00006) (91,0.00006) (95.2,0.00016) (99.3,0.00048) (104.3,0.0008) (107.7,0.00096) (111.8,0.00086) (116,0.00048) (121.8,0.00022) (125,0.00006) (129.8,-0.00003) (134.6,0.0) (137.8,-0.0001) (142.5,-0.00036) (147.3,-0.0006) (152.1,-0.0006) (156.9,-0.00026) (161.7,0.00032) (166.4,0.0007) (169.6,0.00087) (174.4,0.00087) (179.2,0.0005) (182.4,0.0003) (185.6,0.00035) (188.8,0.0006) (192,0.0009) (195.1,0.00103) (198.3,0.0009) (203.1,0.0006) (207.9,0.00016) (212.7,-0.00026) (217.5,-0.0006) (222.2,-0.00062) (225.4,-0.0005) (228.6,-0.001) (231.8,-0.002) (235,-0.0029) (238.2,-0.0032) (243,-0.0029) (247.8,-0.0022) (252.5,-0.0013) (257.3,-0.0001) (260.5,0.0004) (265.3,0.00055) (273.3,0.00055) (278.1,0.0005) (280.4,0.00022) (282.8,-0.0006) (286,-0.0014) (289.2,-0.002) (292.4,-0.0021) (297.2,-0.002) (302,-0.0018) (305.2,-0.0016) (307.5,-0.0011) (310.7,0.0002) (314.7,0.0021) (319.5,0.0030) (324.3,0.0032) (327.5,0.0030) (330.7,0.0030) (335.4,0.0033) (338.6,0.0033) (343.4,0.0028) (348.2,0.0020) (353,0.0013) (357.8,0.00087) (362.6,0.0007) (367.3,0.00055) (368.3,0.0003)};
\addplot[trend, line width=0.75pt] coordinates {(-0.25,-0.00128) (63.6,-0.00089)};
\addplot[trend, line width=0.75pt] coordinates {(233.9,-0.00325) (296.9,-0.0021)};
\node[lab, anchor=west] at ([xshift=3.5pt, yshift=-7.5pt]rel axis cs:0,1) {MACD(12,26,9) 0.00045 0.00055};
\node[lab, anchor=west] at ([xshift=2.3pt, yshift=-6pt]rel axis cs:1,1) {0.00408};
\node[lab, anchor=west] at ([xshift=2.3pt, yshift=5.25pt]rel axis cs:1,0) {-0.00386};
\node[dbox] at (axis cs:16,-0.00386) {2022.12.21 00:00};
\node[dbox] at (axis cs:40,-0.00386) {2022.12.22 00:00};
\node[dbox] at (axis cs:64,-0.00386) {2022.12.23 00:00};
\node[dbox] at (axis cs:88,-0.00386) {2022.12.26 00:00};
\node[dbox] at (axis cs:97,-0.00386) {2022.12.27 00:00};
\node[dbox] at (axis cs:121,-0.00386) {2022.12.28 00:00};
\node[dbox] at (axis cs:145,-0.00386) {2022.12.29 00:00};
\node[dbox] at (axis cs:169,-0.00386) {2022.12.30 00:00};
\node[dbox] at (axis cs:193,-0.00386) {2023.01.02 00:00};
\node[dbox] at (axis cs:217,-0.00386) {2023.01.03 00:00};
\node[dbox] at (axis cs:241,-0.00386) {2023.01.04 00:00};
\node[dbox] at (axis cs:265,-0.00386) {2023.01.05 00:00};
\node[dbox] at (axis cs:289,-0.00386) {2023.01.06 00:00};
\node[dbox] at (axis cs:313,-0.00386) {2023.01.09 00:00};
\node[dbox] at (axis cs:337,-0.00386) {2023.01.10 00:00};
\node[dbox] at (axis cs:361,-0.00386) {2023.01.11 00:00};
\end{axis}
\end{tikzpicture}
\end{document}
